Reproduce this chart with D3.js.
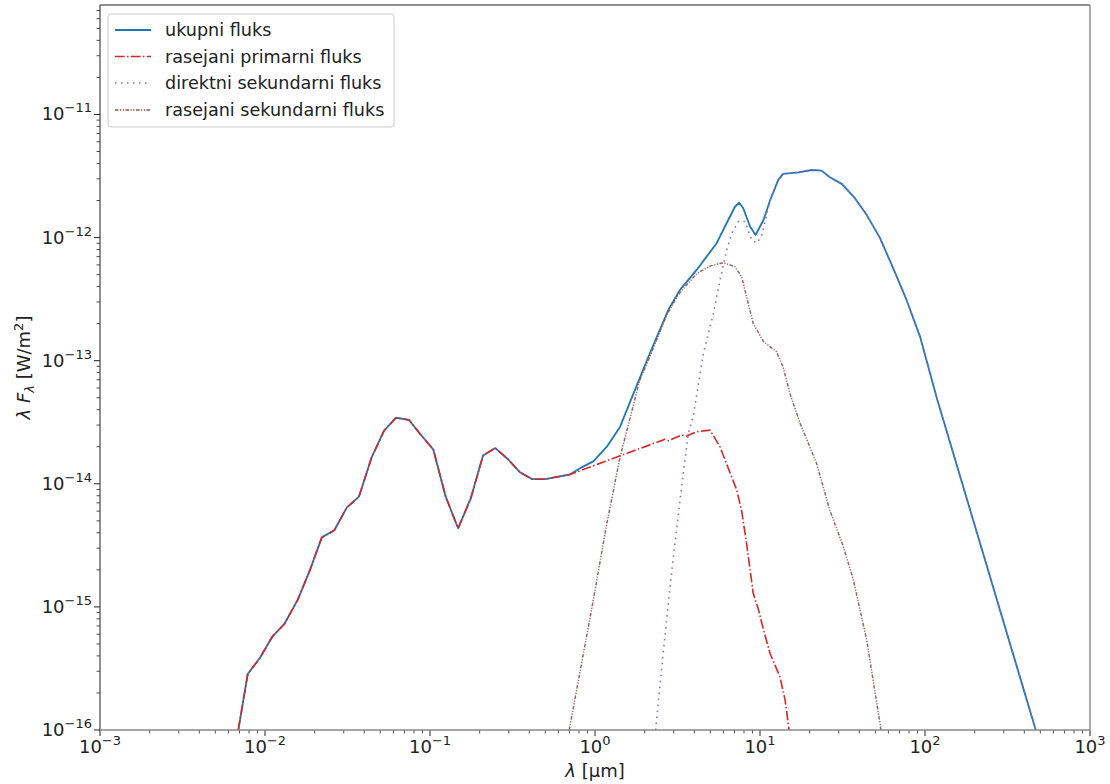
<!DOCTYPE html>
<html>
<head>
<meta charset="utf-8">
<script src="https://cdn.jsdelivr.net/npm/d3@7"></script>
<style>
  body { margin: 0; background: #fff; }
  svg { display: block; font-family: "DejaVu Sans", sans-serif; }
</style>
</head>
<body>
<svg id="chart" width="1110" height="784"></svg>
<script>
// ---------- data (wavelength in µm, λF_λ in W/m²) ----------
const totalLam = [0.00689, 0.00786, 0.00933, 0.01114, 0.0131, 0.01578, 0.01875, 0.0221, 0.0263, 0.0313, 0.0371, 0.0443, 0.0527, 0.0622, 0.0746, 0.0882, 0.1047, 0.1245, 0.148, 0.1766, 0.2096, 0.2489, 0.296, 0.351, 0.417, 0.498, 0.591, 0.705, 0.830, 0.977, 1.18, 1.42, 1.71, 2.15, 2.78, 3.27, 4.13, 5.46, 6.42, 7.05, 7.48, 7.92, 8.7, 9.4, 10.5, 11.5, 12.9, 13.8, 17.1, 20.6, 23.6, 26.5, 31.3, 37.6, 44.3, 53.4, 64.3, 77.4, 93.3, 118, 469];
const totalFlux = [1e-16, 2.85e-16, 3.86e-16, 5.8e-16, 7.26e-16, 1.14e-15, 2.0e-15, 3.67e-15, 4.19e-15, 6.4e-15, 7.86e-15, 1.64e-14, 2.70e-14, 3.44e-14, 3.30e-14, 2.49e-14, 1.90e-14, 7.86e-15, 4.35e-15, 7.6e-15, 1.70e-14, 1.95e-14, 1.59e-14, 1.24e-14, 1.09e-14, 1.09e-14, 1.14e-14, 1.19e-14, 1.36e-14, 1.52e-14, 2.0e-14, 2.91e-14, 5.4e-14, 1.15e-13, 2.58e-13, 3.76e-13, 5.46e-13, 9.0e-13, 1.39e-12, 1.78e-12, 1.92e-12, 1.73e-12, 1.23e-12, 1.05e-12, 1.39e-12, 2.0e-12, 2.94e-12, 3.29e-12, 3.39e-12, 3.54e-12, 3.5e-12, 3.09e-12, 2.73e-12, 2.09e-12, 1.53e-12, 9.9e-13, 5.6e-13, 3.1e-13, 1.57e-13, 4.95e-14, 1e-16];

const primLam = [0.00689, 0.00786, 0.00933, 0.01114, 0.0131, 0.01578, 0.01875, 0.0221, 0.0263, 0.0313, 0.0371, 0.0443, 0.0527, 0.0622, 0.0746, 0.0882, 0.1047, 0.1245, 0.148, 0.1766, 0.2096, 0.2489, 0.296, 0.351, 0.417, 0.498, 0.591, 0.705, 0.977, 1.42, 2.66, 2.78, 3.35, 3.59, 4.13, 4.98, 5.72, 7.23, 7.73, 8.29, 9.1, 9.75, 10.5, 11.5, 13.2, 14.2, 15.0];
const primFlux = [1e-16, 2.85e-16, 3.86e-16, 5.8e-16, 7.26e-16, 1.14e-15, 2.0e-15, 3.67e-15, 4.19e-15, 6.4e-15, 7.86e-15, 1.64e-14, 2.70e-14, 3.44e-14, 3.30e-14, 2.49e-14, 1.90e-14, 7.86e-15, 4.35e-15, 7.6e-15, 1.70e-14, 1.95e-14, 1.59e-14, 1.24e-14, 1.09e-14, 1.09e-14, 1.14e-14, 1.19e-14, 1.40e-14, 1.69e-14, 2.30e-14, 2.24e-14, 2.49e-14, 2.44e-14, 2.65e-14, 2.73e-14, 2.0e-14, 8.9e-15, 6.1e-15, 3.28e-15, 1.29e-15, 9.7e-16, 6.5e-16, 4.2e-16, 2.71e-16, 1.75e-16, 1e-16];

const dirSecLam = [2.33, 2.59, 2.85, 3.05, 3.35, 3.68, 3.95, 4.54, 5.22, 5.72, 6.28, 6.73, 7.39, 8.1, 8.9, 9.55, 10.2, 11.5, 12.9, 13.8, 17.1, 20.6, 23.6, 26.5, 31.3, 37.6, 44.3, 53.4, 64.3, 77.4, 93.3, 118, 469];
const dirSecFlux = [1e-16, 4.2e-16, 1.46e-15, 3.28e-15, 9.5e-15, 2.57e-14, 3.6e-14, 1.15e-13, 2.43e-13, 4.5e-13, 7.9e-13, 1.08e-12, 1.35e-12, 1.35e-12, 9.6e-13, 9.0e-13, 1.02e-12, 2.0e-12, 2.94e-12, 3.29e-12, 3.39e-12, 3.54e-12, 3.5e-12, 3.09e-12, 2.73e-12, 2.09e-12, 1.53e-12, 9.9e-13, 5.6e-13, 3.1e-13, 1.57e-13, 4.95e-14, 1e-16];

const scatSecLam = [0.698, 0.977, 1.18, 1.42, 1.87, 2.15, 2.72, 3.2, 4.13, 4.98, 6.0, 7.05, 7.74, 9.1, 10.5, 12.6, 13.8, 15.2, 17.5, 22.0, 26.5, 32, 36.8, 44.3, 53.4, 54];
const scatSecFlux = [1e-16, 1.14e-15, 4.78e-15, 1.66e-14, 6.97e-14, 1.08e-13, 2.35e-13, 3.45e-13, 5.1e-13, 5.87e-13, 6.25e-13, 5.8e-13, 4.8e-13, 2.0e-13, 1.43e-13, 1.18e-13, 8.9e-14, 5.4e-14, 3.1e-14, 1.47e-14, 6.1e-15, 3.08e-15, 1.66e-15, 5.4e-16, 1.13e-16, 1e-16];

const seriesNames = ["ukupni fluks", "rasejani primarni fluks", "direktni sekundarni fluks", "rasejani sekundarni fluks"];
const seriesColors = ["#1f77b4", "#d62728", "#9467bd", "#8c564b"];
const xTickExps = [-3, -2, -1, 0, 1, 2, 3];
const yTickExps = [-16, -15, -14, -13, -12, -11];
const xDomain = [1e-3, 1e3];
const yDomain = [1e-16, 7.75e-11];

// ---------- layout ----------
const L = 100, R = 1090, T = 5, B = 730;
const FS = 18, SUP = 13;
const svg = d3.select("#chart");
const x = d3.scaleLog().domain(xDomain).range([L, R]);
const y = d3.scaleLog().domain(yDomain).range([B, T]);

svg.append("defs").append("clipPath").attr("id", "clip")
  .append("rect").attr("x", L).attr("y", T).attr("width", R - L).attr("height", B - T);

// ---------- series ----------
const dashes = [null, "9.6,2.4,1.5,2.4", "1.5,4.5", "3.6,1.5,1.2,1.5,1.2,1.5"];
const widths = [1.8, 1.6, 1.6, 1.5];
const opac = [1, 1, 1, 0.9];
const series = [
  d3.zip(totalLam, totalFlux),
  d3.zip(primLam, primFlux),
  d3.zip(dirSecLam, dirSecFlux),
  d3.zip(scatSecLam, scatSecFlux)
];
const line = d3.line().x(d => x(d[0])).y(d => y(d[1]));
const g = svg.append("g").attr("clip-path", "url(#clip)");
series.forEach((s, i) => {
  g.append("path").datum(s)
    .attr("d", line)
    .attr("fill", "none")
    .attr("stroke", seriesColors[i])
    .attr("stroke-opacity", opac[i])
    .attr("stroke-width", widths[i])
    .attr("stroke-dasharray", dashes[i])
    .attr("stroke-linejoin", "round");
});

// ---------- axes ----------
const xMajor = xTickExps.map(e => Math.pow(10, e));
const yMajor = yTickExps.map(e => Math.pow(10, e));
const xMinor = [], yMinor = [];
for (let e = -3; e < 3; e++) for (let m = 2; m <= 9; m++) xMinor.push(m * Math.pow(10, e));
for (let e = -17; e <= -11; e++) for (let m = 2; m <= 9; m++) {
  const v = m * Math.pow(10, e);
  if (v > yDomain[0] && v < yDomain[1]) yMinor.push(v);
}
const axG = svg.append("g");
xMinor.forEach(v => axG.append("line").attr("x1", x(v)).attr("x2", x(v)).attr("y1", B).attr("y2", B + 3.5).attr("stroke", "#222").attr("stroke-width", 0.8));
xMajor.forEach(v => axG.append("line").attr("x1", x(v)).attr("x2", x(v)).attr("y1", B).attr("y2", B + 6).attr("stroke", "#222").attr("stroke-width", 1));
yMinor.forEach(v => axG.append("line").attr("x1", L).attr("x2", L - 3.5).attr("y1", y(v)).attr("y2", y(v)).attr("stroke", "#222").attr("stroke-width", 0.8));
yMajor.forEach(v => axG.append("line").attr("x1", L).attr("x2", L - 6).attr("y1", y(v)).attr("y2", y(v)).attr("stroke", "#222").attr("stroke-width", 1));

xTickExps.forEach(e => {
  const t = axG.append("text").attr("x", x(Math.pow(10, e))).attr("y", B + 23)
    .attr("text-anchor", "middle").attr("font-size", FS).attr("fill", "#222");
  t.append("tspan").text("10");
  t.append("tspan").attr("dy", -8).attr("font-size", SUP).text(e < 0 ? "\u2212" + (-e) : String(e));
});
yTickExps.forEach(e => {
  const t = axG.append("text").attr("x", L - 8).attr("y", y(Math.pow(10, e)) + 6)
    .attr("text-anchor", "end").attr("font-size", FS).attr("fill", "#222");
  t.append("tspan").text("10");
  t.append("tspan").attr("dy", -8).attr("font-size", SUP).text("\u2212" + (-e));
});

// spines
svg.append("line").attr("x1", L).attr("x2", R).attr("y1", T).attr("y2", T).attr("stroke", "#222").attr("stroke-width", 1);
svg.append("line").attr("x1", L).attr("x2", L).attr("y1", T).attr("y2", B).attr("stroke", "#222").attr("stroke-width", 1);
svg.append("line").attr("x1", L).attr("x2", R).attr("y1", B).attr("y2", B).attr("stroke", "#888").attr("stroke-width", 1.6);
svg.append("line").attr("x1", R).attr("x2", R).attr("y1", T).attr("y2", B).attr("stroke", "#888").attr("stroke-width", 1.4);

// axis labels
const xl = svg.append("text").attr("x", (L + R) / 2).attr("y", 777).attr("text-anchor", "middle").attr("font-size", FS).attr("fill", "#222");
xl.append("tspan").attr("font-style", "italic").text("λ");
xl.append("tspan").text(" [μm]");
const yl = svg.append("text").attr("transform", `translate(30,${(T + B) / 2}) rotate(-90)`).attr("text-anchor", "middle").attr("font-size", FS).attr("fill", "#222");
yl.append("tspan").attr("font-style", "italic").text("λ F");
yl.append("tspan").attr("font-style", "italic").attr("font-size", SUP).attr("dy", 4).text("λ");
yl.append("tspan").attr("dy", -4).text(" [W/m");
yl.append("tspan").attr("font-size", SUP).attr("dy", -7).text("2");
yl.append("tspan").attr("dy", 7).text("]");

// legend
const lg = svg.append("g");
lg.append("rect").attr("x", 108).attr("y", 14).attr("width", 286).attr("height", 113).attr("rx", 3)
  .attr("fill", "#fff").attr("fill-opacity", 0.8).attr("stroke", "#ccc").attr("stroke-width", 1);
const rowY = [30, 56.5, 83, 110];
seriesNames.forEach((n, i) => {
  lg.append("line").attr("x1", 115).attr("x2", 151).attr("y1", rowY[i]).attr("y2", rowY[i])
    .attr("stroke", seriesColors[i]).attr("stroke-width", widths[i]).attr("stroke-dasharray", dashes[i]);
  lg.append("text").attr("x", 165).attr("y", rowY[i] + 6).attr("font-size", 17.6).attr("fill", "#222").text(n);
});
</script>
</body>
</html>
